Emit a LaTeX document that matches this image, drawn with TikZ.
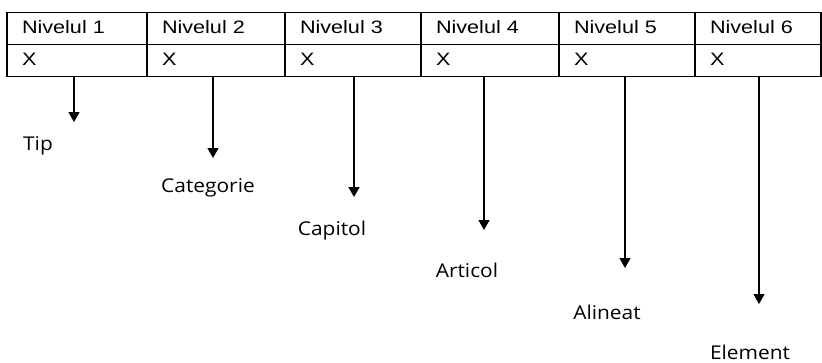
\documentclass[tikz,border=0pt]{standalone}
\usepackage{fontspec}
\newfontfamily\cellfont[FakeStretch=1.2]{Liberation Sans}
\newfontfamily\labfont[FakeStretch=1.1]{Open Sans}
\usetikzlibrary{arrows.meta}

\tikzset{
	cell/.style={draw, line width=1.2pt, rectangle, inner xsep=15pt, inner ysep=0pt,
		minimum height=32pt, align=left, font=\cellfont\fontsize{18}{20}\selectfont,
		text height=13pt, text depth=3pt},
	lab/.style={anchor=base, inner sep=0pt, font=\labfont\fontsize{19}{22}\selectfont, text=black},
	down/.style={-{Triangle[width=11pt,length=10pt]}, line width=1.3pt}
}

\begin{document}
\begin{tikzpicture}[x=1pt, y=-1pt]
		\useasboundingbox (0,0) rectangle (822,362);
		
		% Table: one header row and one row of X
		\foreach \i/\xl/\xr in {1/7/147, 2/147/285, 3/285/421, 4/421/559, 5/559/695, 6/695/821} {
			\pgfmathsetmacro{\w}{\xr-\xl}
			\pgfmathsetmacro{\tw}{\xr-\xl-30}
			\node[cell, minimum width=\w pt, text width=\tw pt] (niv\i) at ({(\xl+\xr)/2}, 28.5) {Nivelul \i};
			\node[cell, minimum width=\w pt, text width=\tw pt] (x\i) at ({(\xl+\xr)/2}, 60.5) {X};
		}
		
		% Arrows down from the table
		\foreach \i/\xa/\yt in {1/74/122, 2/213/158, 3/354/197, 4/484/230, 5/625/268, 6/759/304} {
			\coordinate (s\i) at (\xa, 77);
			\coordinate (t\i) at (\xa, \yt);
			\draw[down] (s\i) -- (t\i);
		}
		
		% Labels under the arrows
		\node[lab] (tip) at (38,150) {Tip};
		\node[lab] (cat) at (208,192) {Categorie};
		\node[lab] (cap) at (332,235) {Capitol};
		\node[lab] (art) at (467,277) {Articol};
		\node[lab] (ali) at (607,319) {Alineat};
		\node[lab] (ele) at (750,359) {Element};
		
	\end{tikzpicture}
\end{document}
